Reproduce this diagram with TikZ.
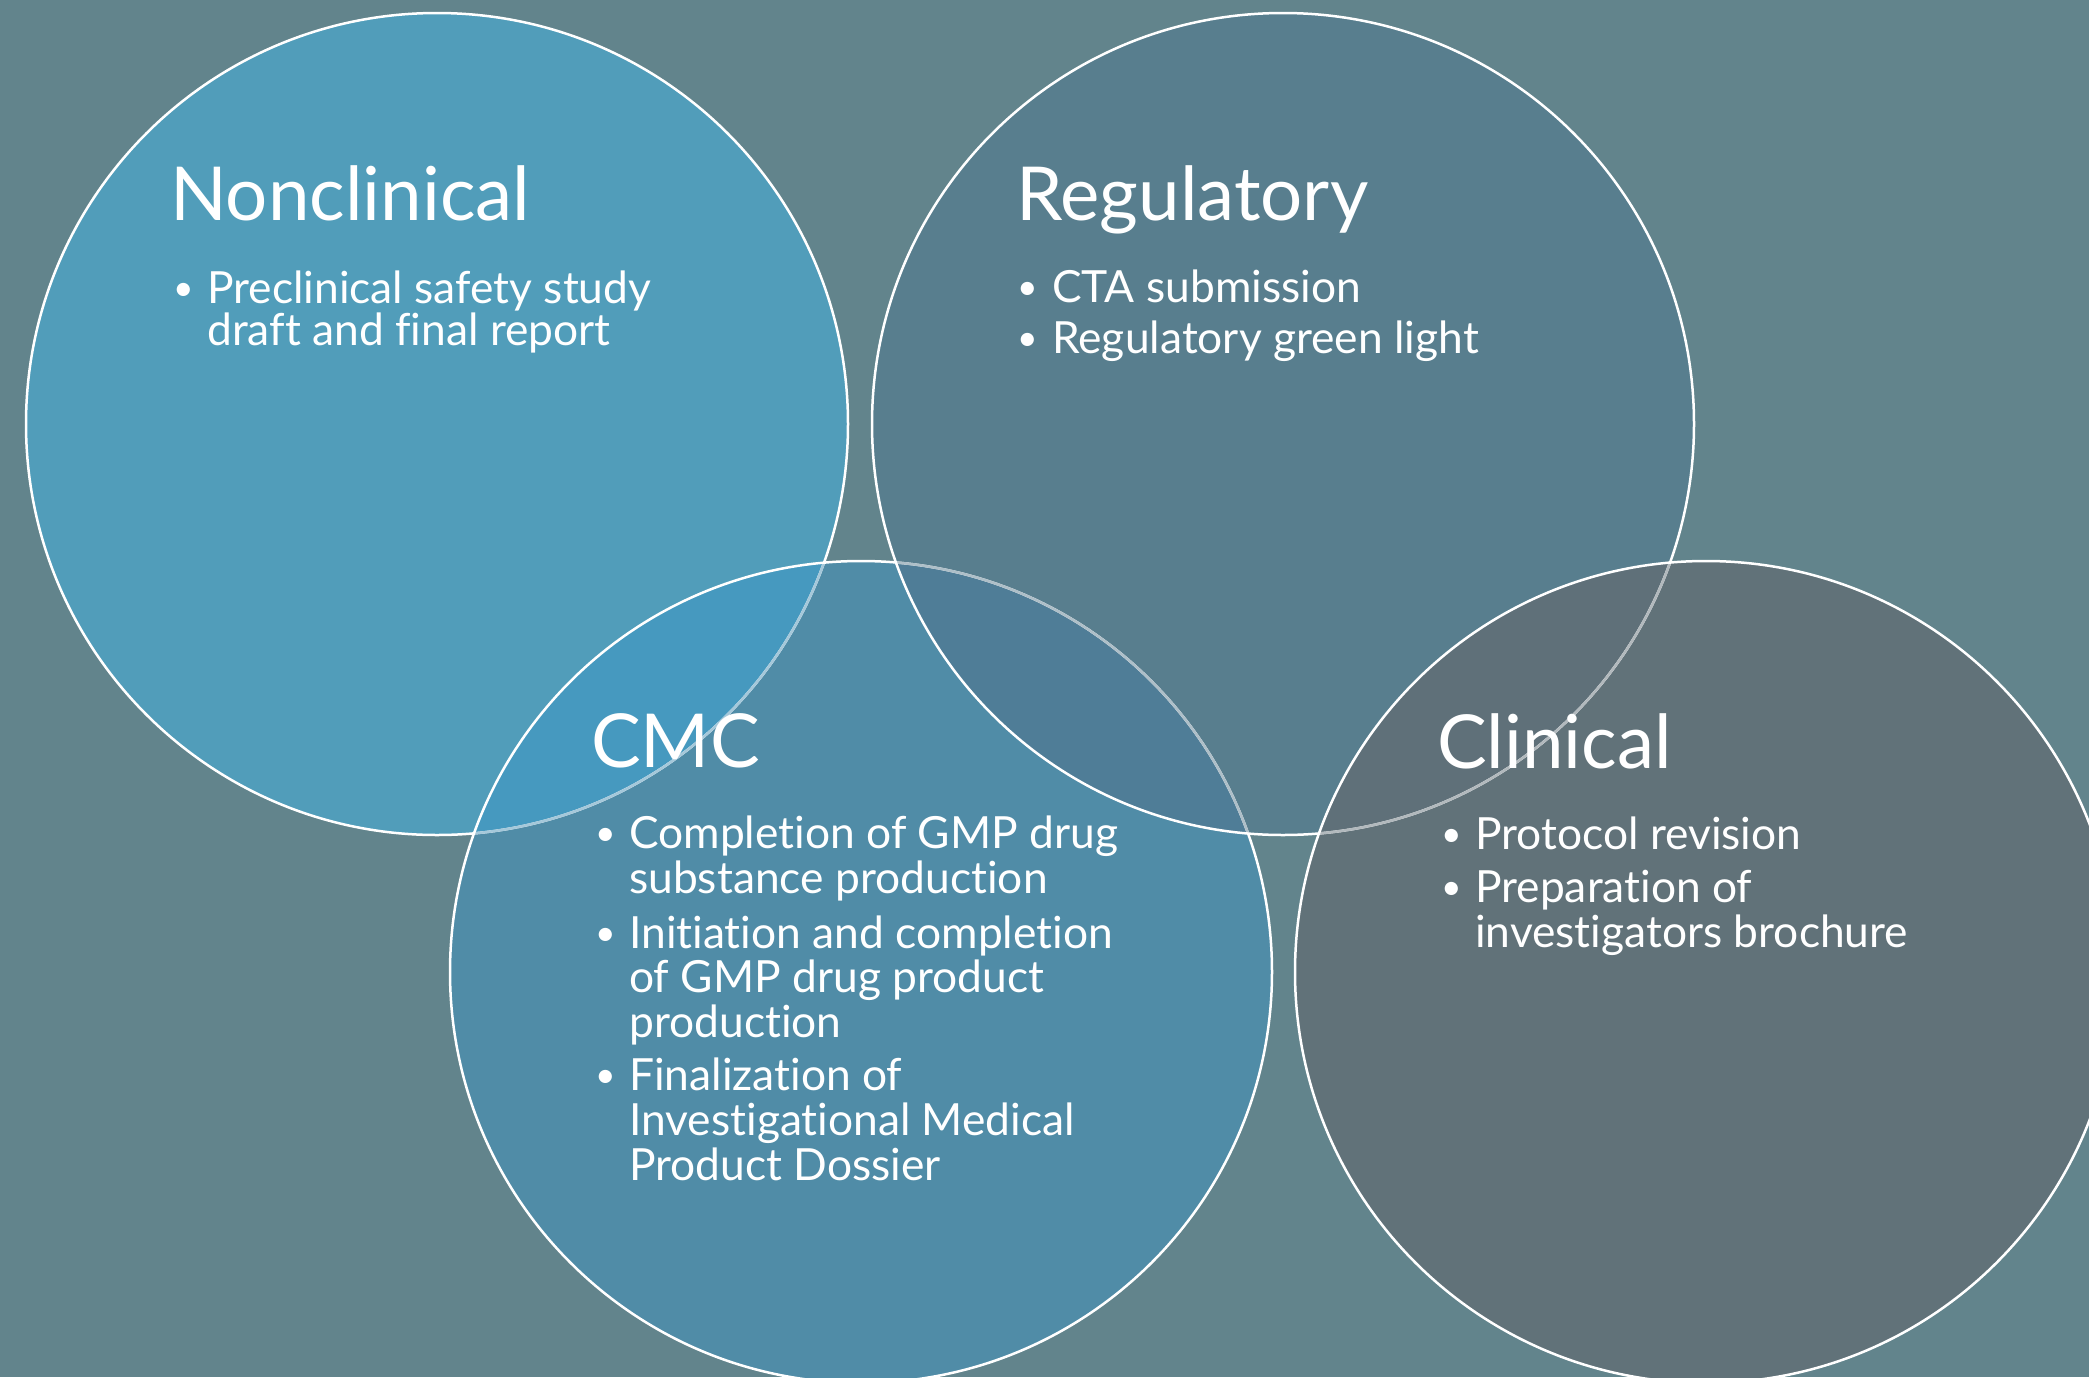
\documentclass[tikz,border=0pt]{standalone}
\usepackage{fontspec}
\setmainfont{Lato}[Ligatures={NoCommon}]
\newlength\tmpw
\definecolor{bgc}{HTML}{62848C}
\definecolor{ncfill}{HTML}{519DBA}
\definecolor{rgfill}{HTML}{587E8E}
\definecolor{cmfill}{HTML}{508CA7}
\definecolor{clfill}{HTML}{617279}
\definecolor{ovnc}{HTML}{4699BF}
\definecolor{ovrc}{HTML}{4F7D97}
\definecolor{ovrl}{HTML}{5F7079}
\definecolor{gnc}{HTML}{A5C8DA}
\definecolor{gcm}{HTML}{AEBFC8}
\definecolor{grg}{HTML}{B2B9BD}
\begin{document}
\settowidth\tmpw{\fontsize{40pt}{40pt}\selectfont Preclinical safety study}
\pgfmathsetmacro\bodysz{40/\tmpw*444}
\settowidth\tmpw{\fontsize{80pt}{80pt}\selectfont Nonclinical}
\pgfmathsetmacro\headsz{80/\tmpw*360}
\pgfmathsetmacro\bulsz{0.8*\bodysz}
\begin{tikzpicture}[x=1pt,y=-1pt,
  wline/.style={draw=white,line width=2.5pt},
  head/.style={font=\fontsize{\headsz}{\headsz}\selectfont,text=white,anchor=base west,inner sep=0pt},
  body/.style={font=\fontsize{\bodysz}{\bodysz}\selectfont,text=white,anchor=base west,inner sep=0pt},
  bul/.style={font=\fontsize{\bulsz}{\bulsz}\selectfont,text=white,anchor=base west,inner sep=0pt,yshift=3pt}]
\useasboundingbox (0,0) rectangle (2089,1377);
\fill[bgc] (0,0) rectangle (2089,1377);
% fills
\fill[ncfill] (437,424) circle[radius=411];
\fill[rgfill] (1283,424) circle[radius=411];
\fill[cmfill] (861,972) circle[radius=411];
\fill[clfill] (1706,972) circle[radius=411];
\begin{scope}
  \clip (437,424) circle[radius=411];
  \fill[ovnc] (861,972) circle[radius=411];
\end{scope}
\begin{scope}
  \clip (1283,424) circle[radius=411];
  \fill[ovrc] (861,972) circle[radius=411];
\end{scope}
\begin{scope}
  \clip (1283,424) circle[radius=411];
  \fill[ovrl] (1706,972) circle[radius=411];
\end{scope}
% outlines
\draw[wline] (437,424) circle[radius=411];
\begin{scope}
  \clip (861,972) circle[radius=411];
  \draw[wline,draw=gnc] (437,424) circle[radius=411];
\end{scope}
\draw[wline] (861,972) circle[radius=411];
\begin{scope}
  \clip (1283,424) circle[radius=411];
  \draw[wline,draw=gcm] (861,972) circle[radius=411];
\end{scope}
\draw[wline] (1283,424) circle[radius=411];
\begin{scope}
  \clip (1706,972) circle[radius=411];
  \draw[wline,draw=grg] (1283,424) circle[radius=411];
\end{scope}
\draw[wline] (1706,972) circle[radius=411];
% Nonclinical
\node[head] (nch) at (170,220) {Nonclinical};
\node[bul] (ncb1) at (173,303) {•};
\node[body] (nc1a) at (207,303) {Preclinical safety study};
\node[body] (nc1b) at (207,345) {draft and final report};
% Regulatory
\node[head] (rgh) at (1016,220) {Regulatory};
\node[bul] (rgb1) at (1017,302) {•};
\node[body] (rg1a) at (1052,302) {CTA submission};
\node[bul] (rgb2) at (1017,353) {•};
\node[body] (rg2a) at (1052,353) {Regulatory green light};
% CMC
\node[head] (cmh) at (591,767) {CMC};
\node[bul] (cmb1) at (595,848) {•};
\node[body] (cm1a) at (629,848) {Completion of GMP drug};
\node[body] (cm1b) at (629,893) {substance production};
\node[bul] (cmb2) at (595,948) {•};
\node[body] (cm2a) at (629,948) {Initiation and completion};
\node[body] (cm2b) at (629,992) {of GMP drug product};
\node[body] (cm2c) at (629,1037) {production};
\node[bul] (cmb3) at (595,1090) {•};
\node[body] (cm3a) at (629,1090) {Finalization of};
\node[body] (cm3b) at (629,1135) {Investigational Medical};
\node[body] (cm3c) at (629,1180) {Product Dossier};
% Clinical
\node[head] (clh) at (1437,768) {Clinical};
\node[bul] (clb1) at (1441,849) {•};
\node[body] (cl1a) at (1475,849) {Protocol revision};
\node[bul] (clb2) at (1441,902) {•};
\node[body] (cl2a) at (1475,902) {Preparation of};
\node[body] (cl2b) at (1475,947) {investigators brochure};
\end{tikzpicture}
\end{document}
